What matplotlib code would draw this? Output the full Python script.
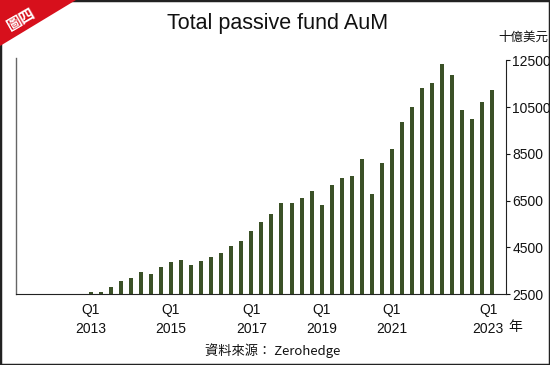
import matplotlib
matplotlib.use("Agg")
import matplotlib.pyplot as plt
from matplotlib.patches import Polygon, Rectangle

plt.rcParams['font.family'] = ['Liberation Sans', 'Noto Sans CJK TC', 'DejaVu Sans']

# Quarterly AuM (billion USD), Q1 2013 .. Q1 2023
values = [2600, 2600, 2800, 3060, 3175, 3430, 3370, 3675, 3890, 3960,
          3760, 3920, 4090, 4260, 4550, 4750, 5210, 5575, 5915, 6400,
          6400, 6610, 6900, 6325, 7185, 7485, 7560, 8270, 6770, 8100,
          8690, 9850, 10510, 11320, 11540, 12330, 11880, 10380, 10010, 10720,
          11210]
tick_pos = [0, 8, 16, 23, 30, 39.6]
tick_labels = ["Q1\n2013", "Q1\n2015", "Q1\n2017", "Q1\n2019", "Q1\n2021", "Q1\n2023"]
yticks = [2500, 4500, 6500, 8500, 10500, 12500]

bar_color = "#3b5127"

fig = plt.figure(figsize=(5.5, 3.65), dpi=100)
W, H = 550, 365
ax = fig.add_axes([16 / W, 1 - 294 / H, (506 - 16) / W, (294 - 58) / H])

x = list(range(len(values)))
ax.bar(x, values, width=0.4, color=bar_color, bottom=0)
ax.set_ylim(2500, 12600)
ax.set_xlim(-7.44, 41.36)

ax.spines['top'].set_visible(False)
ax.spines['left'].set_color('#666666')
ax.spines['left'].set_linewidth(1.0)
ax.spines['bottom'].set_color('#222222')
ax.spines['right'].set_color('#222222')
ax.spines['right'].set_bounds(2500, 12500)

ax.yaxis.tick_right()
ax.set_yticks(yticks)
ax.set_yticklabels([str(v) for v in yticks])
ax.tick_params(axis='y', direction='out', length=3, width=0.8, pad=1.5,
               labelsize=10, colors='#111111')

ax.set_xticks(tick_pos)
ax.set_xticklabels(tick_labels, linespacing=1.45)
ax.tick_params(axis='x', length=0, pad=6.5, labelsize=10, colors='#111111')

fig.text(515 / W, 1 - 327 / H, "年", fontsize=10, ha='center', va='center',
         family=['Noto Sans CJK TC'], color='#111111')
fig.text(523 / W, 1 - 37 / H, "十億美元", fontsize=9, ha='center', va='center',
         family=['Noto Sans CJK TC'], color='#111111')

fig.text(278 / W, 1 - 23 / H, "Total passive fund AuM", fontsize=15.5,
         ha='center', va='center', color='#111111')

fig.text(273 / W, 1 - 351 / H, "資料來源： Zerohedge", fontsize=9.5,
         ha='center', va='center', color='#111111',
         family=['Noto Sans CJK TC', 'Liberation Sans'])

# frame border
fig.patches.append(Rectangle((0, 0), 1, 1, transform=fig.transFigure,
                             fill=False, edgecolor='#222222', linewidth=2.5))
# red corner badge
fig.patches.append(Polygon([(0, 1), (76 / W, 1), (0, 1 - 46 / H)], closed=True,
                           transform=fig.transFigure, facecolor='#d7101c',
                           edgecolor='none'))
fig.text(21 / W, 1 - 19 / H, "圖四", fontsize=11, rotation=30,
         ha='center', va='center', color='white', fontweight='bold',
         family=['Noto Sans CJK TC'])

fig.savefig("out.png", dpi=100)
